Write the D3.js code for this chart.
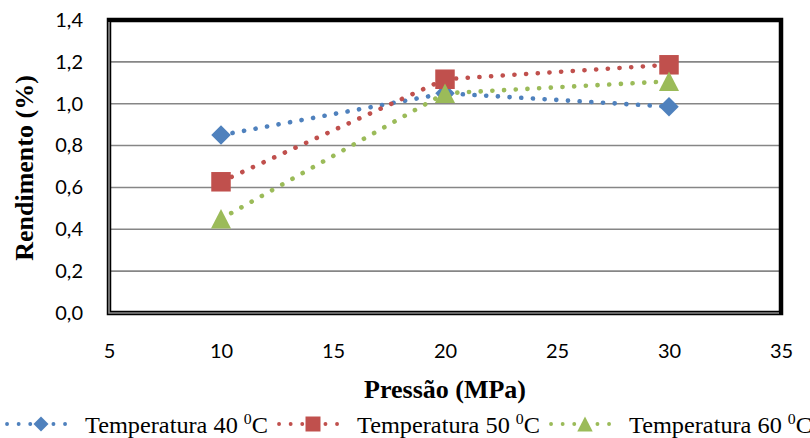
<!DOCTYPE html>
<html><head><meta charset="utf-8">
<script src="https://cdn.jsdelivr.net/npm/d3@7/dist/d3.min.js"></script>
<style>body{margin:0;background:#fff}svg{display:block}</style>
</head><body>
<svg id="c" width="810" height="438"></svg>
<script>
// ---- data ----
const pressures = [10, 20, 30];
const temp40 = [0.85, 1.05, 0.986];
const temp50 = [0.627, 1.117, 1.186];
const temp60 = [0.45, 1.05, 1.107];
const seriesLabels = ["Temperatura 40", "Temperatura 50", "Temperatura 60"];
const xTickValues = [5, 10, 15, 20, 25, 30, 35];
const yTickValues = [0, 0.2, 0.4, 0.6, 0.8, 1.0, 1.2, 1.4];
const xTitle = "Pressão (MPa)";
const yTitle = "Rendimento (%)";

// ---- styles ----
const colors = ["#4F81BD", "#C0504D", "#9BBB59"];
const shapes = ["diamond", "square", "triangle"];
const seriesValues = [temp40, temp50, temp60];

const svg = d3.select("#c");
const x = d3.scaleLinear().domain([5, 35]).range([109, 781]);
const y = d3.scaleLinear().domain([0, 1.4]).range([313, 20]);

function shapePath(shape, s) {
  const h = s / 2;
  if (shape === "diamond") return `M0,${-h}L${h},0L0,${h}L${-h},0Z`;
  if (shape === "square") return `M${-h},${-h}H${h}V${h}H${-h}Z`;
  return `M0,${-h}L${h*1.03},${h}L${-h*1.03},${h}Z`;
}

// gridlines
svg.append("g").selectAll("line")
  .data(yTickValues.filter(v => v > 0 && v < 1.4))
  .join("line")
  .attr("x1", x(5)).attr("x2", x(35))
  .attr("y1", d => y(d)).attr("y2", d => y(d))
  .attr("stroke", "#868686").attr("stroke-width", 1.6);

// axes
const fmt = d => d3.format(".1f")(d).replace(".", ",");
const yAxis = svg.append("g").attr("transform", `translate(${x(5)},0)`)
  .call(d3.axisLeft(y).tickValues(yTickValues).tickFormat(fmt).tickSize(0).tickPadding(26));
yAxis.select(".domain").remove();
yAxis.selectAll("text").attr("font-family", "Lato, 'Open Sans', sans-serif").attr("font-size", 20).attr("fill", "#000");

const xAxis = svg.append("g").attr("transform", `translate(0,${y(0)})`)
  .call(d3.axisBottom(x).tickValues(xTickValues).tickFormat(d3.format("d")).tickSize(0).tickPadding(31));
xAxis.select(".domain").remove();
xAxis.selectAll("text").attr("font-family", "Lato, 'Open Sans', sans-serif").attr("font-size", 20).attr("fill", "#000");

// series
const line = d3.line().x((d, i) => x(pressures[i])).y(d => y(d));
seriesValues.forEach((vals, si) => {
  const g = svg.append("g");
  g.append("path").attr("d", line(vals))
    .attr("fill", "none").attr("stroke", colors[si]).attr("stroke-width", 4.6)
    .attr("stroke-linecap", "round").attr("stroke-dasharray", "0.1 11.6");
  g.selectAll("path.m").data(vals).join("path").attr("class", "m")
    .attr("d", shapePath(shapes[si], 19.5))
    .attr("transform", (d, i) => `translate(${x(pressures[i])},${y(d)})`)
    .attr("fill", colors[si]);
});

// frame
svg.append("rect")
  .attr("x", x(5)).attr("y", y(1.4))
  .attr("width", x(35) - x(5)).attr("height", y(0) - y(1.4))
  .attr("fill", "none").attr("stroke", "#000").attr("stroke-width", 4.5);
svg.append("path")
  .attr("d", `M${x(5)},${y(1.4) + 2}V${y(0)}H${x(35) - 2}`)
  .attr("fill", "none").attr("stroke", "#8a8a8a").attr("stroke-width", 1.6);

// titles
svg.append("text").attr("x", 445).attr("y", 398).attr("text-anchor", "middle")
  .attr("font-family", "'Liberation Serif', 'Times New Roman', serif").attr("font-weight", "bold")
  .attr("font-size", 26).text(xTitle);
svg.append("text").attr("transform", "translate(33,168) rotate(-90)").attr("text-anchor", "middle")
  .attr("font-family", "'Liberation Serif', 'Times New Roman', serif").attr("font-weight", "bold")
  .attr("font-size", 26).text(yTitle);

// legend
let lx = 7;
const ly = 424;
const legTextW = 183;
seriesLabels.forEach((lab, si) => {
  const g = svg.append("g");
  g.append("line").attr("x1", lx).attr("x2", lx + 68).attr("y1", ly).attr("y2", ly)
    .attr("stroke", colors[si]).attr("stroke-width", 3.8)
    .attr("stroke-linecap", "round").attr("stroke-dasharray", "0.1 11.5");
  g.append("path").attr("d", shapePath(shapes[si], 15))
    .attr("transform", `translate(${lx + 34},${ly})`).attr("fill", colors[si]);
  const t = g.append("text").attr("x", lx + 78).attr("y", 433)
    .attr("font-family", "'Liberation Serif', 'Times New Roman', serif").attr("font-size", 23)
    .attr("textLength", legTextW).attr("lengthAdjust", "spacingAndGlyphs");
  t.append("tspan").text(lab + " ");
  t.append("tspan").attr("font-size", 15).attr("dy", -9).text("0");
  t.append("tspan").attr("dy", 9).text("C");
  lx = lx + 78 + legTextW + 11;
});
</script>
</body></html>
